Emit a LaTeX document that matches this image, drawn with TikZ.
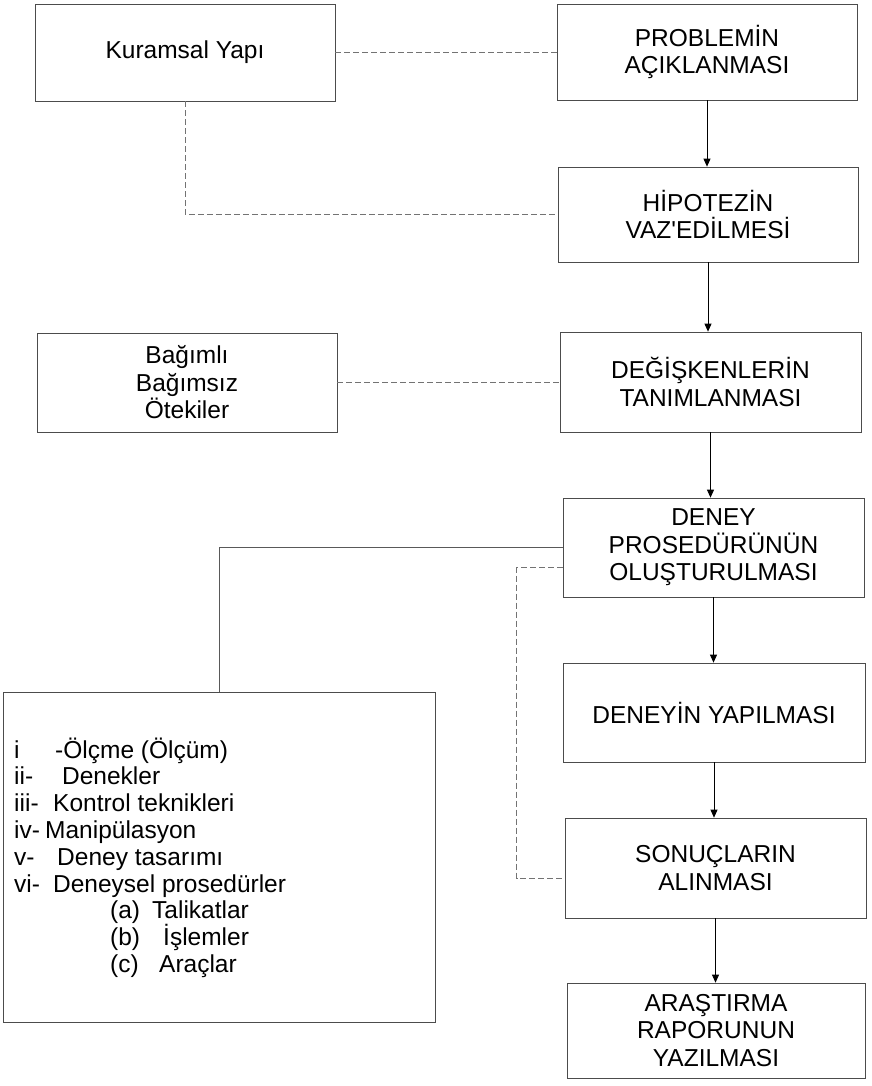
\documentclass[tikz,border=0pt]{standalone}
\usepackage{fontspec}
\setmainfont{Liberation Sans}
\usetikzlibrary{arrows.meta}

\begin{document}
\begin{tikzpicture}[x=1pt,y=-1pt,
  stepbox/.style={draw=black!70,line width=0.7pt,align=center,inner sep=0pt,
    font=\fontsize{24.5}{27.5}\selectfont},
  flow/.style={-{Triangle[length=8pt,width=7pt]},line width=0.8pt},
  link/.style={draw=black!55,line width=0.7pt,dash pattern=on 6pt off 3pt},
  feed/.style={draw=black!65,line width=0.7pt},
  item/.style={anchor=base west,inner sep=0pt,font=\fontsize{24.5}{27.5}\selectfont}]

\useasboundingbox (0,0) rectangle (871,1086);

%draws the steps of the right column
\node[stepbox,minimum width=300pt,minimum height=96pt] (problem) at (707,52) {PROBLEMİN\\AÇIKLANMASI};
\node[stepbox,minimum width=300pt,minimum height=95pt] (hipotez) at (708,214.5) {HİPOTEZİN\\VAZ\textquotesingle EDİLMESİ};
\node[stepbox,minimum width=301pt,minimum height=100pt] (degisken) at (710.5,382) {DEĞİŞKENLERİN\\TANIMLANMASI};
\node[stepbox,minimum width=301pt,minimum height=99pt] (deney) at (713.5,547.5) {DENEY\\PROSEDÜRÜNÜN\\OLUŞTURULMASI};
\node[stepbox,minimum width=302pt,minimum height=99pt] (yapilma) at (714,712.5) {DENEYİN YAPILMASI};
\node[stepbox,minimum width=301pt,minimum height=100pt] (sonuc) at (715.5,868) {SONUÇLARIN\\ALINMASI};
\node[stepbox,minimum width=298pt,minimum height=95pt] (rapor) at (716,1030.5) {ARAŞTIRMA\\RAPORUNUN\\YAZILMASI};

%draws the boxes of the left column
\node[stepbox,minimum width=300pt,minimum height=97pt] (kuram) at (185,52.5) {Kuramsal Yapı};
\node[stepbox,minimum width=300pt,minimum height=99pt] (degiskenler) at (187,382.5) {Bağımlı\\Bağımsız\\Ötekiler};
\node[stepbox,minimum width=432pt,minimum height=330pt] (olcum) at (219,857) {};

%list of the procedure
\foreach \lab/\gap/\txt [count=\k] in {i/41/-Ölçme (Ölçüm), ii-/48/Denekler,
    iii-/39/Kontrol teknikleri, iv-/31/Manipülasyon, v-/43/Deney tasarımı,
    vi-/39/Deneysel prosedürler}
  \node[item] (item\k) at (14,{758+26.8*(\k-1)}) {\makebox[\gap pt][l]{\lab}\txt};
\foreach \lab/\gap/\txt [count=\k] in {(a)/42/Talikatlar, (b)/53/İşlemler, (c)/49/Araçlar}
  \node[item] (sub\k) at (110,{758+26.8*(\k+5)}) {\makebox[\gap pt][l]{\lab}\txt};

%arrows between the steps
\draw[flow] (problem.south) -- (problem.south |- hipotez.north);
\draw[flow] (hipotez.south) -- (hipotez.south |- degisken.north);
\draw[flow] (degisken.south) -- (degisken.south |- deney.north);
\draw[flow] (deney.south) -- (deney.south |- yapilma.north);
\draw[flow] (yapilma.south) -- (yapilma.south |- sonuc.north);
\draw[flow] (sonuc.south) -- (sonuc.south |- rapor.north);

%side links
\draw[link] (kuram.east) -- (kuram.east -| problem.west);
\draw[link] (kuram.south) |- (hipotez.west);
\draw[link] (degiskenler.east) -- (degiskenler.east -| degisken.west);
\draw[feed] (deney.west) -| (olcum.north);
\draw[link] ([yshift=-20pt]deney.west) -- ++(-46,0) |- ([yshift=-10pt]sonuc.west);

\end{tikzpicture}
\end{document}
